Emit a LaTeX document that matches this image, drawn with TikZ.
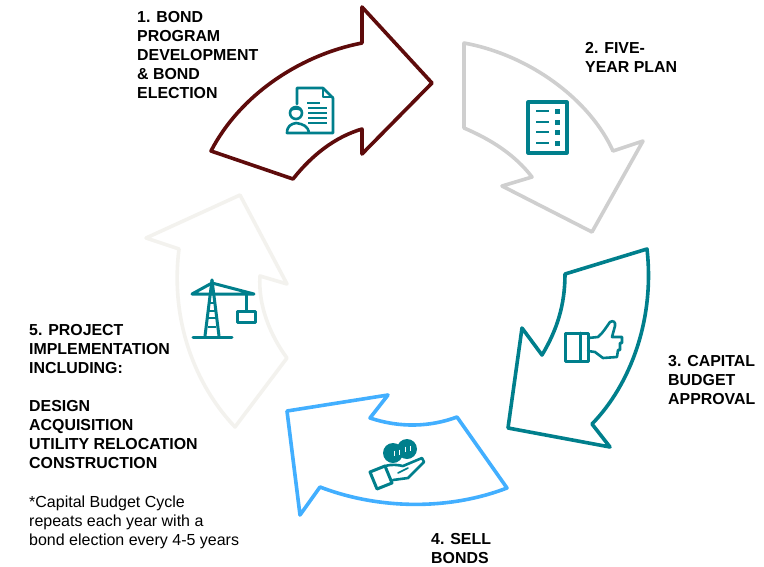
\documentclass[tikz,border=0pt]{standalone}
\usepackage{fontspec}
\setmainfont{Liberation Sans}
\definecolor{bondred}{HTML}{5E0B0B}
\definecolor{plangray}{HTML}{CFCFCF}
\definecolor{iconteal}{HTML}{007F8C}
\definecolor{sellblue}{HTML}{42AFFF}
\definecolor{buildwhite}{HTML}{F3F2EE}
\tikzset{
  arrowline/.style={line width=3.6pt,line join=round,fill=white},
  iconline/.style={draw=iconteal,line width=2.6pt,line join=round,line cap=round},
  stepname/.style={anchor=north west,inner sep=0pt,align=left,font=\fontsize{15.9}{19}\selectfont\bfseries},
  stepnote/.style={anchor=north west,inner sep=0pt,align=left,font=\fontsize{16}{19}\selectfont}
}
\begin{document}
\begin{tikzpicture}[x=1pt,y=-1pt]
        \useasboundingbox (0,0) rectangle (764,566);
        % arrows
        \draw[arrowline,draw=buildwhite] (235,427) .. controls (195,385) and (170,320) .. (179,249)
          -- (146,238) -- (240,195) -- (287,284) -- (260,276)
          .. controls (258,305) and (270,335) .. (287,358) -- cycle;
        \draw[arrowline,draw=bondred] (211,151) .. controls (240,95) and (300,55) .. (362,43)
          -- (362,7) -- (432,83) -- (362,154) -- (362,129)
          .. controls (335,137) and (312,155) .. (293,179) -- cycle;
        \draw[arrowline,draw=plangray] (464,43) .. controls (530,55) and (590,100) .. (613,151)
          -- (643,141) -- (592,232) -- (502,186) -- (532,177)
          .. controls (515,155) and (492,140) .. (464,128) -- cycle;
        \draw[arrowline,draw=iconteal] (647,249) .. controls (655,320) and (630,385) .. (592,424)
          -- (610,447) -- (508,428) -- (522,328) -- (542,355)
          .. controls (557,330) and (565,305) .. (565,274) -- cycle;
        \draw[arrowline,draw=sellblue] (457,417) .. controls (430,427) and (400,428) .. (370,418)
          -- (388,395) -- (287,411) -- (300,515) -- (320,487)
          .. controls (380,510) and (450,510) .. (507,488) -- cycle;
        % document icon
        \draw[iconline] (297,104) -- (297,88) -- (323,88) -- (333,98) -- (333,133) -- (287,133)
          .. controls (287,126) and (291,124) .. (296,123) .. controls (303,124) and (308,126) .. (309,133);
        \draw[iconline,line width=1.4pt] (323,88) -- (323,97) -- (333,97);
        \draw[iconline] (296,113) circle (6);
        \fill[iconteal] (290,112) .. controls (290,105) and (302,105) .. (302,112)
          .. controls (298,109) and (294,109) .. (290,112) -- cycle;
        \draw[iconline,line cap=butt] (307,103) -- (320,103);
        \foreach \y in {108,113,118,123}
         {
        \draw[iconline,line cap=butt] (308,\y) -- (327,\y);
        }
        % list icon
        \draw[iconline,line cap=butt,line width=3.2pt] (528,102) rectangle (567,153);
        \foreach \y in {111,122,132,143}
         {
        \draw[iconline,line cap=butt,line width=2pt] (536,\y) -- (549,\y);
        \fill[iconteal] (554.5,\y-2.5) rectangle (559.5,\y+2.5);
        }
        % thumb icon
        \draw[iconline,line width=3pt] (565,333) rectangle (588,361);
        \draw[iconline,line width=3pt] (580,333) -- (580,361);
        \draw[iconline] (588,338) -- (598,337) .. controls (603,333) and (607,326) .. (610,322)
          .. controls (613,320) and (616,322) .. (615,326) -- (612,337) -- (622,337) -- (622,343)
          -- (620,343) -- (620,350) -- (618,350) -- (617,357) -- (603,358) -- (595,352) -- (588,351);
        % coins and hand icon
        \fill[iconteal] (393,453) circle (10);
        \fill[iconteal] (407,449) circle (10);
        \foreach \x/\y in {394/453,399/452,405/449,410/448}
         {
        \draw[white,line width=0.7pt] (\x,\y-2.5) -- (\x,\y+2.5);
        }
        \draw[iconline,line width=3pt] (370,472) -- (385,466) -- (392,483) -- (377,489) -- cycle;
        \draw[iconline] (385,466) .. controls (392,464) and (398,465) .. (403,466)
          -- (422,458) -- (424,462) -- (408,478) -- (393,480);
        \draw[iconline,line width=1.6pt] (398,473) -- (408,468);
        % crane icon
        \draw[iconline,line width=3pt] (212,280) -- (205,336);
        \draw[iconline,line width=3pt] (212,280) -- (219,336);
        \draw[iconline,line width=3pt] (193,337) -- (232,337);
        \draw[iconline,line width=3pt] (192,294) -- (212,283) -- (254,294) -- cycle;
        \foreach \y in {303,311,318,327}
         {
        \draw[iconline,line cap=butt] (208,\y) -- (216,\y);
        }
        \draw[iconline,line cap=butt,line width=3pt] (246,294) -- (246,311);
        \draw[iconline,line cap=butt,line width=3pt] (237,311) rectangle (255,322);
        % labels
        \node[stepname] (bondLabel) at (137,11) {1. BOND\\PROGRAM\\DEVELOPMENT\\\&~BOND\\ELECTION};
        \node[stepname] (planLabel) at (585,42) {2. FIVE-\\YEAR PLAN};
        \node[stepname] (budgetLabel) at (668,355) {3. CAPITAL\\BUDGET\\APPROVAL};
        \node[stepname] (sellLabel) at (431,533) {4. SELL\\BONDS};
        \node[stepname] (buildLabel) at (29,324) {5. PROJECT\\IMPLEMENTATION\\INCLUDING:\\\mbox{}\\DESIGN\\ACQUISITION\\UTILITY RELOCATION\\CONSTRUCTION};
        \node[stepnote] (cycleNote) at (29,496) {*Capital Budget Cycle\\repeats each year with a\\bond election every 4-5 years};
\end{tikzpicture}
\end{document}
